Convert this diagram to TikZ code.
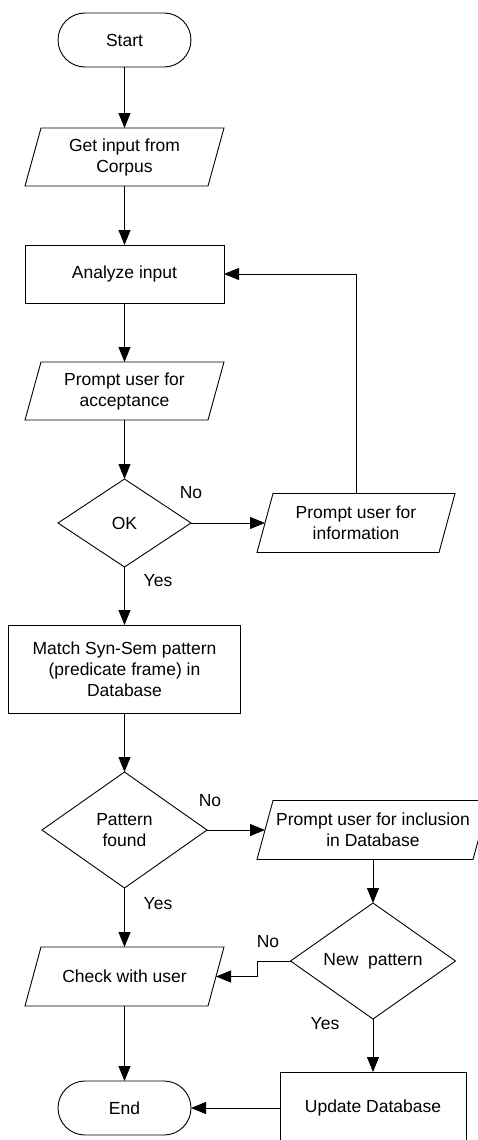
\documentclass[tikz,border=0pt]{standalone}
\usepackage{fontspec}
\setmainfont{Liberation Sans}
\usetikzlibrary{arrows.meta}
\newcommand\iobox[1]{\draw ([xshift=16pt]#1.north west) -- (#1.north east) -- ([xshift=-16pt]#1.south east) -- (#1.south west) -- cycle;}
\newcommand\decbox[1]{\draw (#1.north) -- (#1.east) -- (#1.south) -- (#1.west) -- cycle;}
\tikzset{
  lbl/.style={font=\fontsize{17.5}{21}\selectfont, align=center, inner sep=0pt},
  base/.style={lbl, outer sep=0pt},
  term/.style={base, draw, rounded corners=27pt, minimum width=133pt, minimum height=54pt},
  proc/.style={base, draw},
  arr/.style={-{Triangle[length=15pt,width=12pt]}},
}
\begin{document}
\begin{tikzpicture}[x=1pt,y=-1pt,line width=0.9pt]
\useasboundingbox (0,0) rectangle (478,1140);
\clip (0,0) rectangle (478,1140);
\node[term] (start) at (124.5,40) {Start};
\node[base, minimum width=199pt, minimum height=58pt] (get) at (124.5,157) {Get input from\\Corpus};
\iobox{get}
\node[proc, minimum width=199pt, minimum height=58pt] (analyze) at (124.5,274) {Analyze input};
\node[base, minimum width=199pt, minimum height=58pt] (accept) at (124.5,391) {Prompt user for\\acceptance};
\iobox{accept}
\node[base, minimum width=133pt, minimum height=88pt] (ok) at (124.5,523) {OK};
\decbox{ok}
\node[base, minimum width=198pt, minimum height=59pt] (info) at (356,523) {Prompt user for\\information};
\iobox{info}
\node[proc, minimum width=232pt, minimum height=88pt] (match) at (124.5,669) {Match Syn-Sem pattern\\(predicate frame) in\\Database};
\node[base, minimum width=165pt, minimum height=116pt] (pat) at (124.5,830) {Pattern\\found};
\decbox{pat}
\node[base, minimum width=232pt, minimum height=59pt] (incl) at (373,830) {Prompt user for inclusion\\in Database};
\iobox{incl}
\node[base, minimum width=165pt, minimum height=116pt] (newp) at (373,961) {New\ \ pattern};
\decbox{newp}
\node[base, minimum width=199pt, minimum height=59pt] (check) at (124.5,976.5) {Check with user};
\iobox{check}
\node[term] (end) at (124.5,1108) {End};
\node[proc, minimum width=186pt, minimum height=72pt] (upd) at (373,1108) {Update Database};
\coordinate (bend) at (257,961);
\draw[arr] (start) -- (get);
\draw[arr] (get) -- (analyze);
\draw[arr] (analyze) -- (accept);
\draw[arr] (accept) -- (ok.north);
\draw[arr] (ok.east) -- ([xshift=8pt]info.west);
\draw[arr] (info.north) |- (analyze.east);
\draw[arr] (ok.south) -- (match);
\draw[arr] (match) -- (pat.north);
\draw[arr] (pat.east) -- ([xshift=8pt]incl.west);
\draw[arr] (incl) -- (newp.north);
\draw[arr] (newp.west) -- (bend) |- ([xshift=-8pt]check.east);
\draw[arr] (pat.south) -- (check);
\draw[arr] (check) -- (end);
\draw[arr] (newp.south) -- (upd);
\draw[arr] (upd) -- (end);
\node[lbl] (l1) at (191,493) {No};
\node[lbl] (l2) at (158,581) {Yes};
\node[lbl] (l3) at (210,801) {No};
\node[lbl] (l4) at (158,904) {Yes};
\node[lbl] (l5) at (268,942) {No};
\node[lbl] (l6) at (325,1024) {Yes};
\end{tikzpicture}
\end{document}
